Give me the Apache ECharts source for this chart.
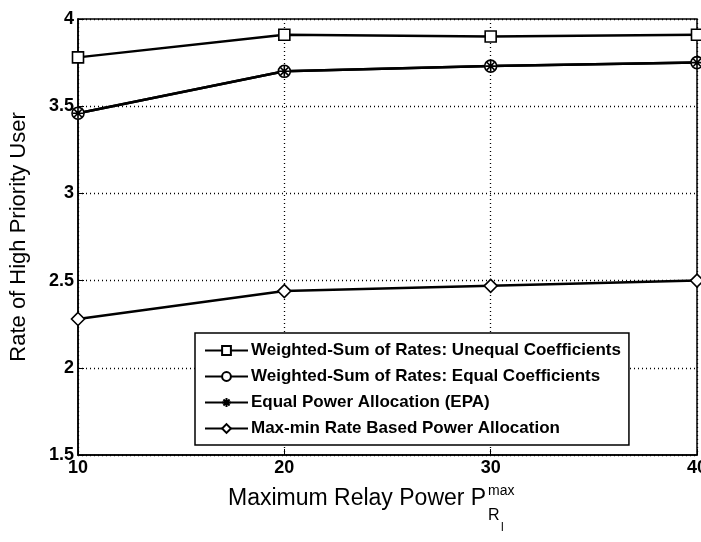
<!DOCTYPE html>
<html>
<head>
<meta charset="utf-8">
<script src="https://cdn.jsdelivr.net/npm/echarts@6/dist/echarts.min.js"></script>
<style>
  html, body { margin: 0; padding: 0; background: #fff; }
  #chart { width: 701px; height: 542px; }
</style>
</head>
<body>
<div id="chart"></div>
<script>
// data
const powers = [10, 20, 30, 40]
const unequalCoef = [3.78, 3.91, 3.90, 3.91]
const equalCoef = [3.46, 3.70, 3.73, 3.75]
const epa = [3.46, 3.70, 3.73, 3.75]
const maxMin = [2.28, 2.44, 2.47, 2.50]
const seriesNames = [
  'Weighted-Sum of Rates: Unequal Coefficients',
  'Weighted-Sum of Rates: Equal Coefficients',
  'Equal Power Allocation (EPA)',
  'Max-min Rate Based Power Allocation'
]

const font = 'Liberation Sans, Arial, sans-serif'
const star = 'path://M5 0L5 10M0 5L10 5M1.5 1.5L8.5 8.5M8.5 1.5L1.5 8.5'

const chart = echarts.init(document.getElementById('chart'))

const mkSeries = (name, values, symbol, size, fill) => ({
  name: name,
  type: 'line',
  data: powers.map((p, i) => [p, values[i]]),
  symbol: symbol,
  symbolSize: size,
  showSymbol: true,
  lineStyle: { color: '#000', width: 2.5 },
  itemStyle: { color: fill, borderColor: '#000', borderWidth: 1.6 },
  animation: false
})

chart.setOption({
  backgroundColor: '#fff',
  animation: false,
  grid: {
    left: 78, right: 4, top: 19, bottom: 87,
    containLabel: false,
    outerBoundsMode: 'none',
    show: true, borderColor: '#000', borderWidth: 1.5
  },
  legend: {
    orient: 'vertical',
    left: 195,
    top: 333,
    itemWidth: 43,
    itemHeight: 11,
    itemGap: 9,
    padding: [9, 8, 8, 9],
    borderColor: '#000',
    borderWidth: 1.5,
    backgroundColor: '#fff',
    textStyle: { fontFamily: font, fontWeight: 'bold', fontSize: 17, color: '#000', padding: [0, 0, 0, -2] },
    data: seriesNames
  },
  xAxis: {
    type: 'value',
    min: 10, max: 40, interval: 10,
    axisLine: { show: true, lineStyle: { color: '#000', width: 1.5 } },
    axisTick: { show: true, inside: true, length: 6, lineStyle: { color: '#000' } },
    axisLabel: { fontFamily: font, fontWeight: 'bold', fontSize: 18, color: '#000', margin: 4 },
    splitLine: { show: true, lineStyle: { color: '#000', type: [1, 3], width: 1.3 } }
  },
  yAxis: {
    type: 'value',
    min: 1.5, max: 4, interval: 0.5,
    name: 'Rate of High Priority User',
    nameLocation: 'middle',
    nameGap: 48,
    nameTextStyle: { fontFamily: font, fontSize: 22, color: '#000' },
    axisLine: { show: true, lineStyle: { color: '#000', width: 1.5 } },
    axisTick: { show: true, inside: true, length: 6, lineStyle: { color: '#000' } },
    axisLabel: { fontFamily: font, fontWeight: 'bold', fontSize: 18, color: '#000', margin: 4 },
    splitLine: { show: true, lineStyle: { color: '#000', type: [1, 3], width: 1.3 } }
  },
  graphic: [
    { type: 'text', left: 228, top: 487,
      style: { text: 'Maximum Relay Power P', font: '23px ' + font, fill: '#000' } },
    { type: 'text', left: 488, top: 484,
      style: { text: 'max', font: '14px ' + font, fill: '#000' } },
    { type: 'text', left: 488, top: 508,
      style: { text: 'R', font: '16px ' + font, fill: '#000' } },
    { type: 'text', left: 501, top: 522,
      style: { text: 'l', font: '12px ' + font, fill: '#000' } }
  ],
  series: [
    mkSeries(seriesNames[0], unequalCoef, 'rect', 11, '#fff'),
    mkSeries(seriesNames[1], equalCoef, 'circle', 12, '#fff'),
    mkSeries(seriesNames[2], epa, star, 11, '#000'),
    mkSeries(seriesNames[3], maxMin, 'diamond', 13, '#fff')
  ]
})
</script>
</body>
</html>
